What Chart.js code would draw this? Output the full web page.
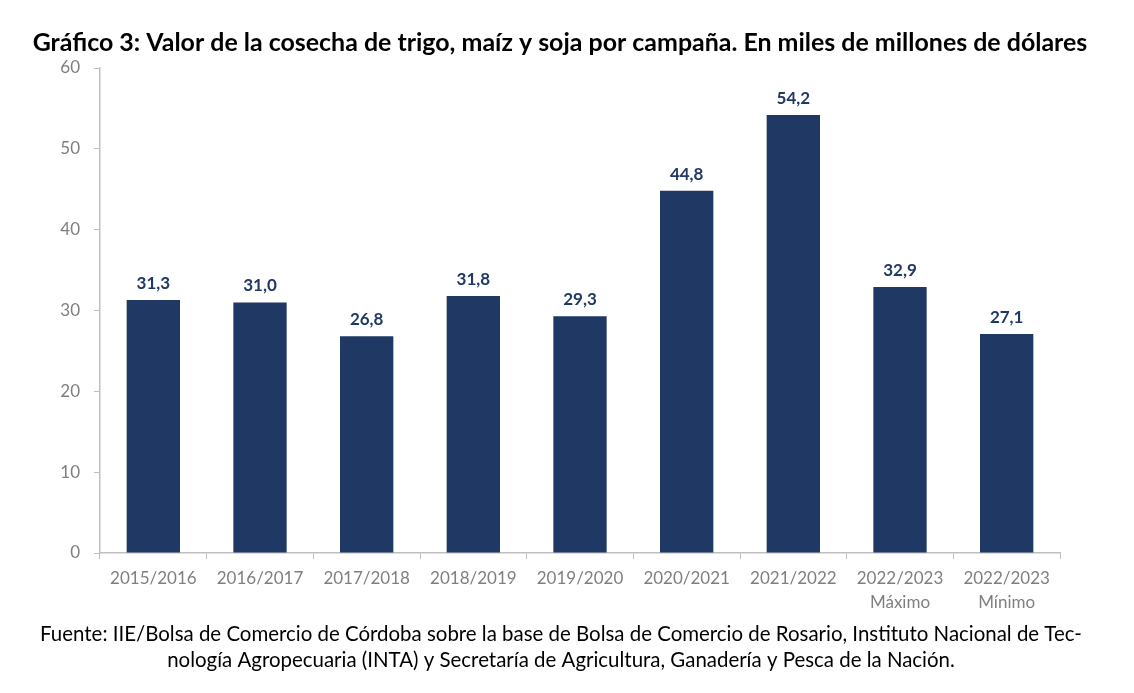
<!DOCTYPE html>
<html>
<head>
<meta charset="utf-8">
<script src="https://cdn.jsdelivr.net/npm/chart.js@4/dist/chart.umd.min.js"></script>
<style>
  html, body { margin: 0; padding: 0; background: #fff; }
  #wrap { width: 1134px; height: 693px; position: relative; }
</style>
</head>
<body>
<div id="wrap"><canvas id="chart" width="1134" height="693"></canvas></div>
<script>
const campaigns = [
    '2015/2016', '2016/2017', '2017/2018', '2018/2019', '2019/2020',
    '2020/2021', '2021/2022', ['2022/2023', 'Máximo'], ['2022/2023', 'Mínimo']
];
const harvestValues = [31.3, 31.0, 26.8, 31.8, 29.3, 44.8, 54.2, 32.9, 27.1];
const yTicks = [0, 10, 20, 30, 40, 50, 60];

const titleText = 'Gráfico 3: Valor de la cosecha de trigo, maíz y soja por campaña. En miles de millones de dólares';
const sourceLines = [
    'Fuente: IIE/Bolsa de Comercio de Córdoba sobre la base de Bolsa de Comercio de Rosario, Instituto Nacional de Tec-',
    'nología Agropecuaria (INTA) y Secretaría de Agricultura, Ganadería y Pesca de la Nación.'
];

const navy = '#203864';
const fontFamily = 'Lato, "Open Sans", sans-serif';

// pick a font size so the text spans the wanted width
function fitFont(ctx, text, weight, width) {
    ctx.font = `${weight} 20px ${fontFamily}`;
    const size = 20 * width / ctx.measureText(text).width;
    ctx.font = `${weight} ${size.toFixed(2)}px ${fontFamily}`;
}

// draws title, footer and the value labels above each bar
const textPlugin = {
    id: 'texts',
    afterDatasetsDraw(chart) {
        const ctx = chart.ctx;
        ctx.save();
        ctx.fillStyle = '#000';
        ctx.textAlign = 'center';
        ctx.textBaseline = 'middle';
        fitFont(ctx, titleText, 'bold', 1055);
        ctx.fillText(titleText, 560, 43);

        fitFont(ctx, sourceLines[0], 'normal', 1042);
        ctx.fillText(sourceLines[0], 561, 634);
        ctx.fillText(sourceLines[1], 561, 660);

        ctx.fillStyle = navy;
        ctx.font = `bold 17px ${fontFamily}`;
        ctx.textBaseline = 'bottom';
        const meta = chart.getDatasetMeta(0);
        meta.data.forEach((bar, i) => {
            const label = harvestValues[i].toFixed(1).replace('.', ',');
            ctx.fillText(label, bar.x, bar.y - 8);
        });
        ctx.restore();
    }
};

new Chart(document.getElementById('chart'), {
    type: 'bar',
    data: {
        labels: campaigns,
        datasets: [{
            data: harvestValues,
            backgroundColor: navy,
            barPercentage: 0.5,
            categoryPercentage: 1.0
        }]
    },
    options: {
        responsive: false,
        animation: false,
        layout: { padding: { left: 0, right: 74, top: 68, bottom: 0 } },
        plugins: {
            legend: { display: false },
            tooltip: { enabled: false }
        },
        scales: {
            y: {
                min: 0,
                max: 60,
                afterFit: s => { s.width = 100; },
                afterBuildTicks: s => { s.ticks = yTicks.map(v => ({ value: v })); },
                grid: { drawOnChartArea: false, color: '#bfbfbf', tickLength: 6 },
                border: { color: '#bfbfbf', width: 1.5 },
                ticks: { color: '#7f7f7f', font: { size: 17, family: fontFamily }, padding: 14 }
            },
            x: {
                afterFit: s => { s.height = 140; },
                grid: { drawOnChartArea: false, color: '#bfbfbf', tickLength: 6, offset: true },
                border: { color: '#bfbfbf', width: 1.5 },
                ticks: { color: '#7f7f7f', font: { size: 17, family: fontFamily, lineHeight: 1.4 }, padding: 8, maxRotation: 0 }
            }
        }
    },
    plugins: [textPlugin]
});
</script>
</body>
</html>
